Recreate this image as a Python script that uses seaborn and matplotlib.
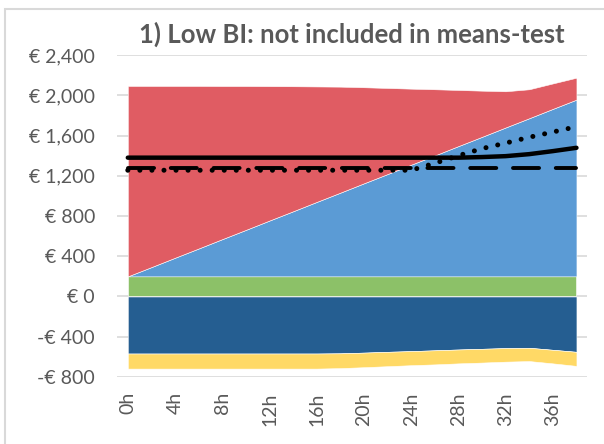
import numpy as np
import pandas as pd
import matplotlib
matplotlib.use("Agg")
import matplotlib.pyplot as plt
import seaborn as sns
from matplotlib.patches import Rectangle

sns.set_theme(style="white")
plt.rcParams["font.family"] = ["Lato", "DejaVu Sans"]

# Data, every 2 hours
hours = [0, 2, 4, 6, 8, 10, 12, 14, 16, 18, 20, 22, 24, 26, 28, 30, 32, 34, 36, 38]
green = [200] * 20
blue = [0, 92, 185, 277, 370, 462, 555, 647, 740, 832,
        925, 1017, 1110, 1202, 1295, 1387, 1480, 1572, 1665, 1757]
red = [1893, 1801, 1708, 1616, 1522, 1430, 1336, 1243, 1148, 1054,
       955, 856, 756, 658, 558, 459, 360, 288, 253, 218]
darkblue = [-567, -567, -567, -567, -567, -567, -567, -567, -567, -565,
            -558, -550, -543, -535, -527, -520, -513, -510, -530, -550]
yellow = [-150, -150, -150, -150, -150, -150, -150, -150, -150, -147,
          -145, -143, -140, -140, -138, -137, -135, -132, -135, -140]
solid_line = [1380, 1380, 1380, 1380, 1380, 1380, 1380, 1380, 1380, 1380,
              1380, 1380, 1380, 1380, 1380, 1386, 1395, 1415, 1445, 1478]
dashed_line = [1280] * 20
dotted_line = [1255, 1255, 1255, 1255, 1255, 1255, 1255, 1255, 1255, 1255,
               1255, 1255, 1255, 1325, 1400, 1470, 1525, 1583, 1635, 1688]

tick_hours = [0, 4, 8, 12, 16, 20, 24, 28, 32, 36]
tick_labels = [f"{h}h" for h in tick_hours]
y_ticks = [-800, -400, 0, 400, 800, 1200, 1600, 2000, 2400]

df = pd.DataFrame({"hour": hours, "green": green, "blue": blue, "red": red,
                   "darkblue": darkblue, "yellow": yellow,
                   "solid": solid_line, "dashed": dashed_line, "dotted": dotted_line})

fig = plt.figure(figsize=(6.04, 4.44), dpi=100)
ax = fig.add_axes([0.194, 0.151, 0.778, 0.725])

# stacked areas
x = df["hour"]
g_top = df["green"]
b_top = g_top + df["blue"]
r_top = b_top + df["red"]
d_bot = df["darkblue"]
y_bot = d_bot + df["yellow"]
edge = dict(edgecolor="white", linewidth=0.4)
ax.fill_between(x, 0, g_top, color="#8CC168", zorder=2, **edge)
ax.fill_between(x, g_top, b_top, color="#5B9BD5", zorder=2, **edge)
ax.fill_between(x, b_top, r_top, color="#E05C63", zorder=2, **edge)
ax.fill_between(x, 0, d_bot, color="#255E91", zorder=2, **edge)
ax.fill_between(x, d_bot, y_bot, color="#FFD966", zorder=2, **edge)

# lines
sns.lineplot(data=df, x="hour", y="dotted", ax=ax, color="black", lw=3.6,
             linestyle=(0, (0.01, 2.4)), dash_capstyle="round", zorder=3)
sns.lineplot(data=df, x="hour", y="dashed", ax=ax, color="black", lw=2.8,
             linestyle=(0, (6.7, 4.3)), dash_capstyle="round", zorder=4)
sns.lineplot(data=df, x="hour", y="solid", ax=ax, color="black", lw=3.2,
             solid_capstyle="round", zorder=5)

ax.set_xlim(-0.9, 38.9)
ax.set_ylim(-800, 2400)
ax.set_yticks(y_ticks)
ax.set_yticklabels([f"€ {v:,}" if v >= 0 else f"-€ {abs(v):,}" for v in y_ticks])
ax.set_xticks(tick_hours)
ax.set_xticklabels(tick_labels, rotation=90)
ax.tick_params(axis="y", length=0, pad=16, labelsize=14, labelcolor="#595959")
ax.tick_params(axis="x", length=0, pad=11, labelsize=14, labelcolor="#595959")
ax.set_xlabel("")
ax.set_ylabel("")
ax.yaxis.grid(True, color="#D9D9D9", lw=1.2, zorder=0)
ax.set_axisbelow(True)
for s in ax.spines.values():
    s.set_visible(False)

ax.set_title("1) Low BI: not included in means-test", fontsize=18.5,
             fontweight="bold", color="#595959", pad=9)

fig.patches.append(Rectangle((4.5 / 604, -0.1), 1.2, (444 - 9.5) / 444 + 0.1,
                             transform=fig.transFigure, fill=False,
                             edgecolor="#D9D9D9", lw=1.5))

fig.savefig("out.png", dpi=100)
